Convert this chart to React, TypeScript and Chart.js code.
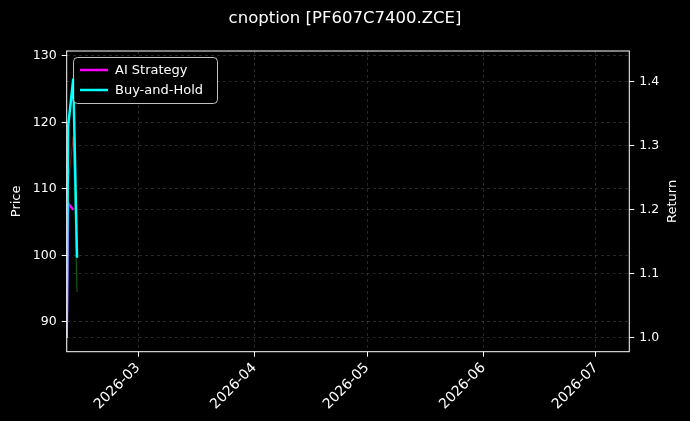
import React, { useEffect, useRef } from "react";
import { Chart, registerables } from "chart.js";

Chart.register(...registerables);

// ---- data ----
const DATES = ["2026-02-10T00:00:00Z", "2026-02-10T09:00:00Z", "2026-02-11T18:00:00Z", "2026-02-12T18:00:00Z"];
const PRICE = [84.0, 110.5, 117.9, 94.5];
const AI_STRATEGY = [1.0, 1.21, 1.2, null];
const BUY_AND_HOLD = [1.0, 1.33, 1.405, 1.125];
const X_TICKS = ["2026-03-01", "2026-04-01", "2026-05-01", "2026-06-01", "2026-07-01"];
const PRICE_TICKS = [90, 100, 110, 120, 130];
const RETURN_TICKS = [1.0, 1.1, 1.2, 1.3, 1.4];
const X_RANGE = ["2026-02-10T00:00:00Z", "2026-07-09T21:00:00Z"];
const PRICE_RANGE = [85.5, 130.75];
const RETURN_RANGE = [0.978, 1.448];
const TITLE = "cnoption [PF607C7400.ZCE]";
const SERIES_NAMES = ["AI Strategy", "Buy-and-Hold"];

const FONT = "'DejaVu Sans', sans-serif";
const GRID_COLOR = "rgba(255,255,255,0.22)";

export default function App() {
  const ref = useRef<HTMLCanvasElement>(null);

  useEffect(() => {
    const t = (s: string) => Date.parse(s.length === 10 ? s + "T00:00:00Z" : s);
    const xs = DATES.map(t);

    const overlay = {
      id: "overlay",
      beforeDraw(chart: any) {
        const c = chart.ctx;
        c.save();
        c.fillStyle = "#000";
        c.fillRect(0, 0, chart.width, chart.height);
        c.restore();
      },
      afterDraw(chart: any) {
        const c = chart.ctx;
        const a = chart.chartArea;
        c.save();
        // frame
        c.strokeStyle = "#ffffff";
        c.lineWidth = 1;
        c.setLineDash([]);
        c.strokeRect(a.left, a.top, a.right - a.left, a.bottom - a.top);
        // title
        c.fillStyle = "#ffffff";
        c.font = `16.5px ${FONT}`;
        c.textAlign = "center";
        c.textBaseline = "middle";
        c.fillText(TITLE, chart.width / 2, 18.5);
        // axis titles
        c.font = `13px ${FONT}`;
        const midY = (a.top + a.bottom) / 2;
        c.save();
        c.translate(17, midY);
        c.rotate(-Math.PI / 2);
        c.fillText("Price", 0, 0);
        c.restore();
        c.save();
        c.translate(673, midY);
        c.rotate(-Math.PI / 2);
        c.fillText("Return", 0, 0);
        c.restore();
        // legend
        const lx = 73.5, ly = 57.5, lw = 144, lh = 46;
        c.beginPath();
        (c as any).roundRect(lx, ly, lw, lh, 4);
        c.fillStyle = "rgba(0,0,0,0.8)";
        c.fill();
        c.strokeStyle = "rgba(215,215,215,0.9)";
        c.lineWidth = 1;
        c.stroke();
        const colors = ["#ff00ff", "#00ffff"];
        const rows = [70, 90];
        c.font = `13px ${FONT}`;
        c.textAlign = "left";
        c.textBaseline = "middle";
        SERIES_NAMES.forEach((n, i) => {
          c.beginPath();
          c.moveTo(80, rows[i]);
          c.lineTo(108, rows[i]);
          c.strokeStyle = colors[i];
          c.lineWidth = 2.5;
          c.stroke();
          c.fillStyle = "#ffffff";
          c.fillText(n, 115, rows[i] + 0.5);
        });
        c.restore();
      },
    };

    const tickFont = { family: FONT, size: 12.5 };
    const gridBase = {
      color: GRID_COLOR,
      lineWidth: 0.7,
      drawTicks: true,
      tickLength: 5,
      tickColor: "#ffffff",
      tickWidth: 1,
    };

    const chart = new Chart(ref.current as HTMLCanvasElement, {
      type: "line",
      data: {
        datasets: [
          {
            label: SERIES_NAMES[1],
            data: xs.map((x, i) => ({ x, y: BUY_AND_HOLD[i] })),
            yAxisID: "yR",
            borderColor: "#00ffff",
            borderWidth: 2.5,
            pointRadius: 0,
            tension: 0,
          },
          {
            label: SERIES_NAMES[0],
            data: xs.map((x, i) => ({ x, y: AI_STRATEGY[i] })),
            yAxisID: "yR",
            borderColor: "#ff00ff",
            borderWidth: 2.5,
            pointRadius: 0,
            tension: 0,
          },
          {
            label: "Price",
            data: xs.map((x, i) => ({ x, y: PRICE[i] })),
            yAxisID: "yL",
            borderColor: "rgba(255,40,40,0.5)",
            borderWidth: 1,
            pointRadius: 0,
            tension: 0,
            segment: {
              borderColor: (s: any) =>
                s.p1.parsed.y >= s.p0.parsed.y ? "rgba(255,30,30,0.5)" : "rgba(40,210,40,0.5)",
            },
          },
        ],
      },
      options: {
        animation: false,
        responsive: false,
        maintainAspectRatio: false,
        layout: { padding: { left: 0, right: 0, top: 51, bottom: 0 } },
        plugins: {
          legend: { display: false },
          tooltip: { enabled: false },
          title: { display: false },
        },
        scales: {
          x: {
            type: "linear",
            position: "bottom",
            min: t(X_RANGE[0]),
            max: t(X_RANGE[1]),
            afterBuildTicks: (s: any) => {
              s.ticks = X_TICKS.map((d) => ({ value: t(d) }));
            },
            afterFit: (s: any) => {
              s.height = 69.3;
            },
            ticks: {
              color: "#ffffff",
              font: { family: FONT, size: 14 },
              maxRotation: 45,
              minRotation: 45,
              autoSkip: false,
              padding: 3,
              callback: (v: any) => {
                const d = new Date(Number(v));
                return `${d.getUTCFullYear()}-${String(d.getUTCMonth() + 1).padStart(2, "0")}`;
              },
            },
            grid: gridBase,
            border: { display: false, dash: [3, 3] },
          },
          yL: {
            type: "linear",
            position: "left",
            min: PRICE_RANGE[0],
            max: PRICE_RANGE[1],
            afterBuildTicks: (s: any) => {
              s.ticks = PRICE_TICKS.map((v) => ({ value: v }));
            },
            afterFit: (s: any) => {
              s.width = 66.7;
            },
            ticks: {
              color: "#ffffff",
              font: tickFont,
              padding: 5,
              callback: (v: any) => String(v),
            },
            grid: gridBase,
            border: { display: false, dash: [3, 3] },
          },
          yR: {
            type: "linear",
            position: "right",
            min: RETURN_RANGE[0],
            max: RETURN_RANGE[1],
            afterBuildTicks: (s: any) => {
              s.ticks = RETURN_TICKS.map((v) => ({ value: v }));
            },
            afterFit: (s: any) => {
              s.width = 60.7;
            },
            ticks: {
              color: "#ffffff",
              font: tickFont,
              padding: 5,
              callback: (v: any) => Number(v).toFixed(1),
            },
            grid: gridBase,
            border: { display: false, dash: [3, 3] },
          },
        },
      } as any,
      plugins: [overlay],
    });
    return () => chart.destroy();
  }, []);

  return (
    <div style={{ position: "fixed", left: 0, top: 0, width: 690, height: 421, background: "#000" }}>
      <canvas ref={ref} width={690} height={421} style={{ width: 690, height: 421, display: "block" }} />
    </div>
  );
}
